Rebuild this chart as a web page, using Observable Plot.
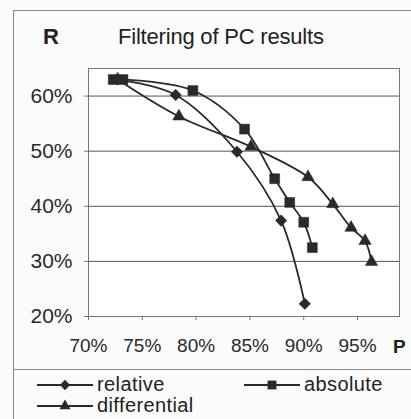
<!DOCTYPE html>
<html>
<head>
<meta charset="utf-8">
<script src="https://cdn.jsdelivr.net/npm/d3@7"></script>
<script src="https://cdn.jsdelivr.net/npm/@observablehq/plot@0.6"></script>
<style>
  html, body { margin: 0; padding: 0; background: #fbfbfb; }
  #wrap { position: relative; width: 411px; height: 419px; overflow: hidden; font-family: "Liberation Sans", Arial, sans-serif; color: #222; }
  .abs { position: absolute; white-space: nowrap; }
</style>
</head>
<body>
<div id="wrap"></div>
<script>
// ---- data ----
const seriesNames = ["relative", "absolute", "differential"];
const relP = [0.727, 0.781, 0.838, 0.879, 0.901];
const relR = [0.630, 0.602, 0.499, 0.374, 0.223];
const absP = [0.723, 0.732, 0.797, 0.845, 0.873, 0.887, 0.900, 0.908];
const absR = [0.630, 0.630, 0.610, 0.540, 0.450, 0.407, 0.371, 0.325];
const difP = [0.727, 0.784, 0.851, 0.904, 0.927, 0.944, 0.957, 0.963];
const difR = [0.630, 0.563, 0.508, 0.453, 0.404, 0.361, 0.337, 0.299];
const xTicks = [0.70, 0.75, 0.80, 0.85, 0.90, 0.95];
const yTicks = [0.20, 0.30, 0.40, 0.50, 0.60];
const titleText = "Filtering of PC results";
const yLabel = "R";
const xLabel = "P";

const rows = [];
relP.forEach((p, i) => rows.push({series: "relative", P: p, R: relR[i]}));
absP.forEach((p, i) => rows.push({series: "absolute", P: p, R: absR[i]}));
difP.forEach((p, i) => rows.push({series: "differential", P: p, R: difR[i]}));

const ink = "#2a2a2a";
const symbolOf = {relative: "diamond2", absolute: "square", differential: "triangle"};
const rOf = {relative: 5.2, absolute: 5.6, differential: 4.6};

const plot = Plot.plot({
  width: 411,
  height: 369,
  marginTop: 68,
  marginBottom: 53,
  marginLeft: 88,
  marginRight: 12,
  style: {background: "transparent", fontFamily: "'Liberation Sans', Arial, sans-serif", color: ink},
  x: {domain: [0.70, 0.989], ticks: xTicks, tickFormat: d3.format(".0%"), label: null},
  y: {domain: [0.20, 0.65], ticks: yTicks, tickFormat: d3.format(".0%"), label: null},
  marks: [
    Plot.frame({fill: "#ffffff", stroke: "#777", strokeWidth: 1}),
    Plot.gridY(yTicks.filter(d => d > 0.2), {stroke: "#555", strokeOpacity: 1, strokeWidth: 1}),
    Plot.axisX({ticks: xTicks, tickFormat: d3.format(".0%"), tickSize: 4, tickPadding: 18, fontSize: 19, stroke: "#777", label: null}),
    Plot.axisY({ticks: yTicks, tickFormat: d3.format(".0%"), tickSize: 4, tickPadding: 12, fontSize: 21, stroke: "#777", label: null}),
    Plot.line(rows, {x: "P", y: "R", z: "series", stroke: ink, strokeWidth: 1.8, curve: "catmull-rom"}),
    ...seriesNames.map(s => Plot.dot(rows.filter(d => d.series === s), {
      x: "P", y: "R", symbol: symbolOf[s], r: rOf[s], fill: ink, stroke: ink, strokeWidth: 0.5
    }))
  ]
});

const wrap = document.getElementById("wrap");
plot.style.position = "absolute";
plot.style.left = "0px";
plot.style.top = "0px";
wrap.appendChild(plot);

// outer border lines
function line(css) {
  const d = document.createElement("div");
  d.className = "abs";
  Object.assign(d.style, {background: "#888"}, css);
  wrap.appendChild(d);
}
line({left: "13px", top: "10px", width: "398px", height: "1px"});
line({left: "13px", top: "10px", width: "1px", height: "409px"});
line({left: "13px", top: "369px", width: "398px", height: "1px"});

function label(text, css) {
  const d = document.createElement("div");
  d.className = "abs";
  d.textContent = text;
  Object.assign(d.style, css);
  wrap.appendChild(d);
  return d;
}
label(titleText, {left: "118px", top: "24px", fontSize: "22px", letterSpacing: "-0.2px"});
label(yLabel, {left: "43px", top: "24px", fontSize: "22px", fontWeight: "bold"});
label(xLabel, {left: "393px", top: "336px", fontSize: "19px", fontWeight: "bold"});

// legend
function legendItem(name, left, top) {
  const ns = "http://www.w3.org/2000/svg";
  const svg = document.createElementNS(ns, "svg");
  svg.setAttribute("width", 58);
  svg.setAttribute("height", 20);
  svg.style.position = "absolute";
  svg.style.left = left + "px";
  svg.style.top = (top - 10) + "px";
  const l = document.createElementNS(ns, "line");
  l.setAttribute("x1", 0); l.setAttribute("x2", 56);
  l.setAttribute("y1", 10); l.setAttribute("y2", 10);
  l.setAttribute("stroke", ink); l.setAttribute("stroke-width", 2);
  svg.appendChild(l);
  const symMap = {relative: d3.symbolDiamond2, absolute: d3.symbolSquare, differential: d3.symbolTriangle};
  const r = rOf[name];
  const p = document.createElementNS(ns, "path");
  p.setAttribute("d", d3.symbol(symMap[name], Math.PI * r * r * 0.8)());
  p.setAttribute("transform", "translate(28,10)");
  p.setAttribute("fill", ink);
  svg.appendChild(p);
  wrap.appendChild(svg);
  label(name, {left: (left + 60) + "px", top: (top - 12) + "px", fontSize: "20px", letterSpacing: "0.4px"});
}
legendItem("relative", 37, 385);
legendItem("absolute", 244, 385);
legendItem("differential", 37, 406);
</script>
</body>
</html>
